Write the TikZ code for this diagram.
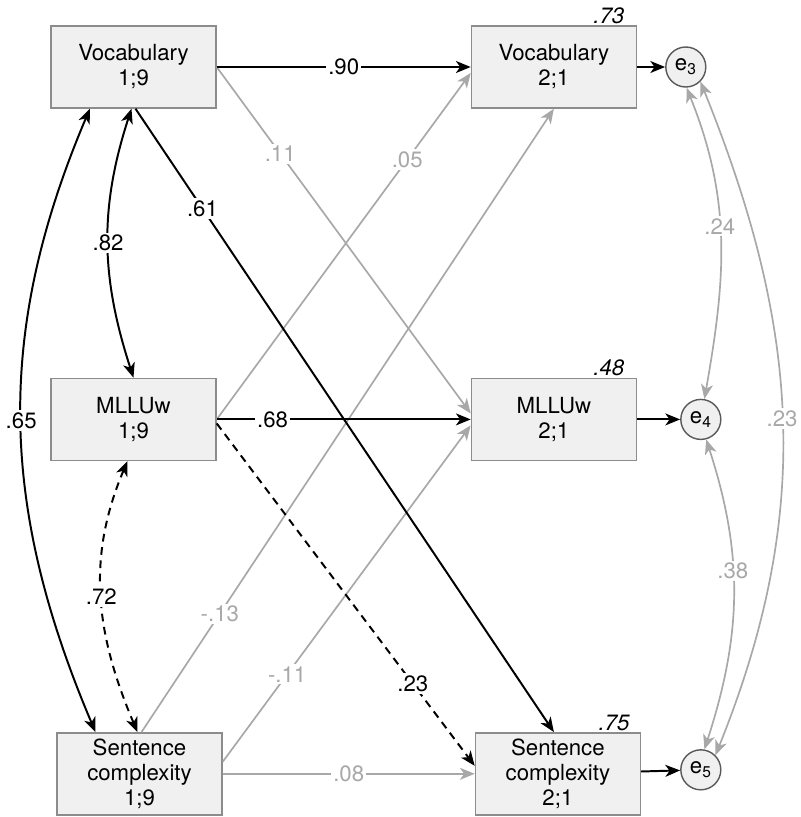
\documentclass[tikz,border=0pt]{standalone}
\usepackage{fontspec}
\setmainfont{TeX Gyre Heros}
\usetikzlibrary{positioning,arrows.meta}
\definecolor{semfill}{HTML}{F0F0F0}
\definecolor{semedge}{HTML}{8C8C8C}
\definecolor{semgray}{HTML}{A8A8A8}

\begin{document}
\begin{tikzpicture}[
      font=\fontsize{15.8}{17.8}\selectfont,
      var/.style={draw=semedge, line width=1pt, fill=semfill, align=center,
                  inner sep=2pt, minimum width=4.125cm, minimum height=2.05cm},
      err/.style={circle, draw=black!65, line width=1pt, fill=semfill,
                  inner sep=0pt, minimum size=1cm},
      rsq/.style={font=\fontsize{15.8}{17.8}\selectfont\itshape, inner sep=1pt},
      reg/.style={-{Stealth[length=10.5pt, width=8.5pt, inset=3pt]}, line width=1.4pt, draw=black},
      weak/.style={reg, line width=1.2pt, draw=semgray},
      cov/.style={{Stealth[length=10.5pt, width=8.5pt, inset=3pt]}-{Stealth[length=10.5pt, width=8.5pt, inset=3pt]},
                  line width=1.4pt, draw=black},
      wcov/.style={cov, line width=1.2pt, draw=semgray},
      lbl/.style={fill=white, inner sep=1.5pt},
      wlbl/.style={lbl, text=semgray}
    ]
    \useasboundingbox (-3.3375,1.675) rectangle (16.6875,-18.75);

    % age 1;9
    \node[var] (vb1) {Vocabulary\\1;9};
    \node[var, below=6.725cm of vb1] (mll1) {MLLUw\\1;9};
    \node[var, below=6.775cm of mll1, xshift=0.15cm] (sc1) {Sentence\\complexity\\1;9};

    % age 2;1
    \node[var, right=6.35cm of vb1] (vb2) {Vocabulary\\2;1};
    \node[var, right=6.35cm of mll1] (mll2) {MLLUw\\2;1};
    \node[var, right=6.3cm of sc1] (sc2) {Sentence\\complexity\\2;1};

    % explained variance
    \node[rsq, anchor=south east] (r2vb) at ([xshift=-0.28cm]vb2.north east) {.73};
    \node[rsq, anchor=south east] (r2mll) at ([xshift=-0.28cm]mll2.north east) {.48};
    \node[rsq, anchor=south east] (r2sc) at ([xshift=-0.25cm]sc2.north east) {.75};

    % residuals
    \node[err, right=0.7cm of vb2] (e3) {e\textsubscript{3}};
    \node[err, right=1.075cm of mll2] (e4) {e\textsubscript{4}};
    \node[err, right=0.975cm of sc2, yshift=0.1cm] (e5) {e\textsubscript{5}};

    % paths
    \draw[weak] (vb1.east) -- node[wlbl, pos=0.25]{.11} ([yshift=0.15cm]mll2.west);
    \draw[weak] (mll1.east) -- node[wlbl, pos=0.75]{.05} ([yshift=-0.15cm]vb2.west);
    \draw[weak] ([xshift=0.05cm]sc1.north) -- node[wlbl, pos=0.19]{-.13} (vb2.south);
    \draw[weak] ([yshift=0.3cm]sc1.east) -- node[wlbl, pos=0.26]{-.11} ([yshift=-0.15cm]mll2.west);
    \draw[weak] (sc1.east) -- node[wlbl]{.08} (sc2.west);
    \draw[reg] (vb1.east) -- node[lbl]{.90} (vb2.west);
    \draw[reg] (mll1.east) -- node[lbl, pos=0.22]{.68} (mll2.west);
    \draw[reg] ([xshift=0.05cm]vb1.south) -- node[lbl, pos=0.16]{.61} ([xshift=-0.1cm]sc2.north);
    \draw[reg, dash pattern=on 5.5pt off 4pt] ([yshift=-0.1cm]mll1.east)
      -- node[lbl, pos=0.76]{.23} ([yshift=0.2cm]sc2.west);
    \draw[reg] (vb2) -- (e3);
    \draw[reg] (mll2) -- (e4);
    \draw[reg] (sc2) -- (e5);

    % covariances at 1;9
    \draw[cov] ([xshift=-1.09cm]vb1.south) to[out=247, in=113]
      node[lbl]{.65} ([xshift=-1.1cm]sc1.north);
    \draw[cov] ([xshift=-0.05cm]vb1.south) to[out=252, in=108]
      node[lbl]{.82} (mll1.north);
    \draw[cov, dash pattern=on 5.5pt off 4pt] ([xshift=-0.15cm]mll1.south) to[out=247, in=113]
      node[lbl]{.72} ([xshift=-0.05cm]sc1.north);

    % residual covariances
    \draw[wcov] (e3.-88) to[out=-68, in=80] node[wlbl, pos=0.45]{.24} (e4.80);
    \draw[wcov] (e4.-75) to[out=-72, in=72] node[wlbl, pos=0.42]{.38} (e5.80);
    \draw[wcov] (e3.-45) to[out=-68, in=68] node[wlbl]{.23} (e5.45);
  \end{tikzpicture}
\end{document}
